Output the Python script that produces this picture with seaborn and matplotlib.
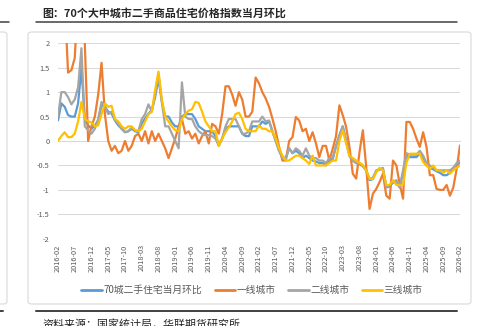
import numpy as np
import pandas as pd
import matplotlib
matplotlib.use("Agg")
import matplotlib.pyplot as plt
import seaborn as sns
from matplotlib.patches import FancyBboxPatch
from matplotlib.lines import Line2D

# ---------------- data ----------------
months = pd.period_range("2016-02", "2026-02", freq="M").strftime("%Y-%m").tolist()

city70 = [0.42, 0.77, 0.70, 0.53, 0.50, 0.50, 0.77, 1.50, 0.45, 0.32,
          0.25, 0.32, 0.42, 0.73, 0.70, 0.60, 0.56, 0.42, 0.32, 0.25,
          0.18, 0.20, 0.25, 0.20, 0.18, 0.36, 0.46, 0.56, 0.63, 0.90,
          1.28, 0.80, 0.50, 0.50, 0.38, 0.30, 0.30, 0.50, 0.55, 0.55,
          0.55, 0.45, 0.30, 0.25, 0.20, 0.20, 0.20, 0.10, -0.08, 0.05,
          0.25, 0.30, 0.30, 0.30, 0.30, 0.15, 0.10, 0.10, 0.30, 0.30,
          0.30, 0.40, 0.35, 0.40, 0.20, 0.00, -0.20, -0.33, -0.35, -0.15,
          -0.25, -0.20, -0.25, -0.35, -0.30, -0.35, -0.40, -0.42, -0.45, -0.45,
          -0.50, -0.40, -0.38, -0.10, 0.12, 0.30, 0.00, -0.30, -0.40, -0.45,
          -0.47, -0.52, -0.60, -0.80, -0.78, -0.62, -0.58, -0.58, -0.95, -0.93,
          -0.85, -0.85, -0.95, -0.65, -0.30, -0.33, -0.33, -0.33, -0.25, -0.35,
          -0.50, -0.55, -0.58, -0.62, -0.65, -0.70, -0.70, -0.65, -0.55, -0.48,
          -0.45]

tier1 = [3.00, 3.50, 2.90, 1.40, 1.45, 1.70, 3.00, 3.30, 2.00, 0.00,
         0.30, 0.50, 0.95, 1.60, 0.55, 0.00, -0.20, -0.10, -0.25, -0.20,
         0.00, -0.20, -0.10, 0.10, 0.15, 0.00, 0.20, -0.05, 0.20, 0.00,
         0.15, 0.00, -0.15, -0.35, -0.15, 0.05, 0.30, 0.45, 0.15, 0.20,
         0.05, 0.15, -0.05, 0.10, 0.20, -0.05, 0.35, 0.30, 0.15, 0.55,
         1.12, 1.12, 0.95, 0.72, 1.00, 0.85, 0.50, 0.50, 0.60, 1.30,
         1.18, 1.00, 0.87, 0.70, 0.46, 0.20, -0.12, -0.40, -0.40, 0.00,
         0.08, 0.49, 0.42, 0.20, 0.25, 0.00, 0.18, -0.05, -0.33, -0.10,
         -0.10, -0.40, -0.16, 0.10, 0.73, 0.53, 0.29, -0.12, -0.67, -0.77,
         -0.23, 0.22, -0.53, -1.39, -1.08, -0.98, -0.84, -0.67, -1.12, -1.18,
         -0.40, -0.50, -0.88, -1.18, 0.39, 0.39, 0.25, 0.05, -0.12, 0.18,
         -0.12, -0.70, -0.70, -0.98, -1.00, -1.00, -0.90, -1.12, -0.95, -0.57,
         -0.09]

tier2 = [0.50, 1.00, 1.00, 0.90, 0.75, 0.85, 1.10, 1.90, 0.30, 0.22,
         0.15, 0.25, 0.45, 0.80, 0.70, 0.55, 0.60, 0.45, 0.35, 0.25,
         0.18, 0.20, 0.28, 0.22, 0.20, 0.45, 0.55, 0.75, 0.60, 0.95,
         1.38, 0.80, 0.30, 0.30, 0.15, 0.00, -0.15, 1.20, 0.50, 0.45,
         0.45, 0.30, 0.20, 0.15, 0.12, 0.12, 0.10, 0.05, -0.10, 0.05,
         0.30, 0.45, 0.45, 0.45, 0.30, 0.15, 0.15, 0.20, 0.40, 0.40,
         0.40, 0.50, 0.40, 0.42, 0.20, 0.00, -0.20, -0.35, -0.35, -0.15,
         -0.25, -0.15, -0.20, -0.30, -0.15, -0.30, -0.35, -0.35, -0.40, -0.40,
         -0.45, -0.35, -0.35, -0.10, 0.10, 0.30, 0.00, -0.30, -0.40, -0.45,
         -0.45, -0.50, -0.60, -0.78, -0.75, -0.60, -0.58, -0.55, -0.95, -0.90,
         -0.85, -0.80, -0.95, -0.60, -0.25, -0.28, -0.28, -0.28, -0.20, -0.30,
         -0.45, -0.50, -0.55, -0.60, -0.60, -0.60, -0.60, -0.60, -0.55, -0.45,
         -0.40]

tier3 = [0.00, 0.10, 0.18, 0.08, 0.08, 0.15, 0.40, 0.80, 0.45, 0.40,
         0.38, 0.30, 0.32, 0.55, 0.77, 0.70, 0.72, 0.45, 0.40, 0.30,
         0.25, 0.30, 0.30, 0.22, 0.20, 0.25, 0.40, 0.55, 0.60, 1.05,
         1.42, 0.85, 0.50, 0.40, 0.30, 0.22, 0.20, 0.45, 0.55, 0.62,
         0.65, 0.80, 0.78, 0.60, 0.40, 0.30, 0.20, 0.20, -0.10, 0.05,
         0.18, 0.28, 0.40, 0.55, 0.58, 0.45, 0.25, 0.20, 0.20, 0.20,
         0.32, 0.25, 0.25, 0.20, 0.20, 0.05, -0.15, -0.30, -0.40, -0.40,
         -0.35, -0.30, -0.30, -0.35, -0.40, -0.47, -0.30, -0.50, -0.50, -0.50,
         -0.50, -0.45, -0.40, -0.40, 0.00, 0.22, -0.05, -0.30, -0.35, -0.40,
         -0.45, -0.50, -0.60, -0.77, -0.78, -0.64, -0.55, -0.60, -0.90, -0.90,
         -0.80, -0.90, -0.90, -0.90, -0.45, -0.26, -0.26, -0.26, -0.26, -0.43,
         -0.50, -0.57, -0.50, -0.60, -0.60, -0.65, -0.60, -0.67, -0.60, -0.55,
         -0.50]

series_names = ["70城二手住宅当月环比", "一线城市", "二线城市", "三线城市"]
series_colors = ["#5B9BD5", "#ED7D31", "#A5A5A5", "#FFC000"]
yticks = [-2, -1.5, -1, -0.5, 0, 0.5, 1, 1.5, 2]
ytick_labels = ["-2", "-1.5", "-1", "-0.5", "0", "0.5", "1", "1.5", "2"]
title = "图：70个大中城市二手商品住宅价格指数当月环比"
source = "资料来源：国家统计局，华联期货研究所"

# ---------------- style ----------------
sns.set_theme(style="white")
plt.rcParams["font.family"] = ["Noto Sans CJK SC", "DejaVu Sans"]
plt.rcParams["axes.unicode_minus"] = False

W, H = 491, 326
def fx(px):
    return px / W
def fy(py):
    return 1 - py / H

fig = plt.figure(figsize=(W / 100, H / 100), dpi=100)
fig.patch.set_facecolor("white")

# panel frames
fig.add_artist(FancyBboxPatch((fx(28), fy(304)), fx(471) - fx(28), fy(32) - fy(304),
                              boxstyle="round,pad=0,rounding_size=0.008",
                              transform=fig.transFigure, facecolor="white",
                              edgecolor="#D9D9D9", lw=0.8, zorder=0))
fig.add_artist(FancyBboxPatch((-0.1, fy(304)), 0.1 + fx(7), fy(32) - fy(304),
                              boxstyle="round,pad=0,rounding_size=0.008",
                              transform=fig.transFigure, facecolor="white",
                              edgecolor="#D9D9D9", lw=0.8, zorder=0))

# title, rules, source
fig.text(fx(42), fy(13), title, fontsize=7.9, ha="left", va="center",
         color="#262626", fontweight="bold")
fig.add_artist(Line2D([fx(36), fx(457)], [fy(21.7)] * 2, color="#404040", lw=1.1))
fig.add_artist(Line2D([0, fx(9)], [fy(21.7)] * 2, color="#404040", lw=1.1))
fig.add_artist(Line2D([fx(36), fx(457)], [fy(311)] * 2, color="#404040", lw=1.4))
fig.add_artist(Line2D([0, fx(3)], [fy(311)] * 2, color="#404040", lw=1.4))
fig.text(fx(42), fy(319), source, fontsize=7.9, ha="left", va="top", color="#262626")

# ---------------- chart ----------------
ax = fig.add_axes([fx(58), fy(238.7), fx(460) - fx(58), fy(43.3) - fy(238.7)])
ax.patch.set_alpha(0)

idx = np.arange(len(months))
values = [city70, tier1, tier2, tier3]
for name, col, vals in zip(series_names, series_colors, values):
    df = pd.DataFrame({"idx": idx, "value": vals})
    sns.lineplot(data=df, x="idx", y="value", ax=ax, color=col, lw=1.6,
                 label=name, sort=False)

ax.set_xlim(0, len(months) - 1)
ax.set_ylim(-2, 2)
ax.set_xlabel("")
ax.set_ylabel("")
ax.set_yticks(yticks)
ax.set_yticklabels(ytick_labels)
ax.yaxis.grid(True, color="#D9D9D9", lw=0.75)
ax.xaxis.grid(False)
ax.set_axisbelow(True)
for s in ["top", "right", "left"]:
    ax.spines[s].set_visible(False)
ax.spines["bottom"].set_position(("data", 0))
ax.spines["bottom"].set_color("#D9D9D9")
ax.spines["bottom"].set_linewidth(0.75)
ax.spines["bottom"].set_zorder(0.5)

xt = list(range(0, len(months), 5))
ax.set_xticks(xt)
ax.tick_params(axis="x", direction="out", length=3, color="#D9D9D9",
               width=0.75, labelbottom=False)
ax.tick_params(axis="y", length=0, pad=6, labelsize=5.3, labelcolor="#595959")

sec = ax.secondary_xaxis(0)
sec.set_xticks(xt, labels=[months[i] for i in xt])
sec.tick_params(length=0, pad=4, labelsize=5.3, labelcolor="#595959", rotation=90)
sec.spines["bottom"].set_visible(False)

leg = ax.legend(loc="center", bbox_to_anchor=(fx(252), fy(290)),
                bbox_transform=fig.transFigure, ncol=4, frameon=False,
                fontsize=7, handlelength=2.1, handletextpad=0.15,
                columnspacing=1.3, labelcolor="#595959")
for h in leg.get_lines():
    h.set_linewidth(2.0)

fig.savefig("out.png", dpi=100, facecolor="white")
